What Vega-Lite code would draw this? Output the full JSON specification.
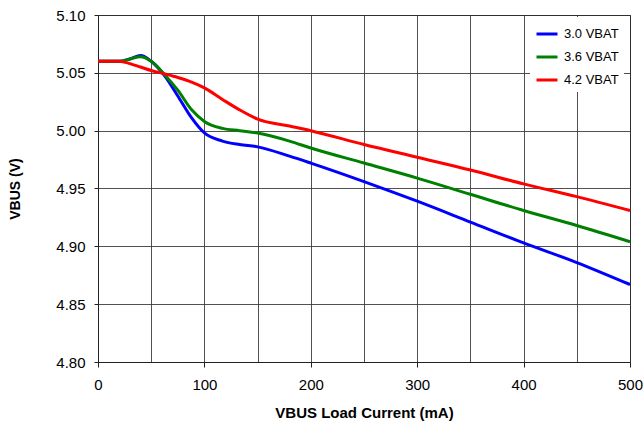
{
  "$schema": "https://vega.github.io/schema/vega-lite/v6.json",
  "autosize": {"type": "none"},
  "padding": {"left": 98, "top": 15, "right": 14, "bottom": 65},
  "width": 532,
  "height": 347,
  "background": "white",
  "config": {
    "font": "Liberation Sans",
    "view": {"stroke": "#222", "strokeWidth": 1},
    "axis": {"labelFont": "Liberation Sans", "titleFont": "Liberation Sans", "labelColor": "#000", "titleColor": "#000", "gridColor": "#333", "gridOpacity": 0.85, "domainColor": "#222", "tickColor": "#222"}
  },
  "data": {"values": [
    {"ma": 0, "v": 5.060, "s": "3.0 VBAT"},
    {"ma": 10, "v": 5.060, "s": "3.0 VBAT"},
    {"ma": 20, "v": 5.060, "s": "3.0 VBAT"},
    {"ma": 30, "v": 5.062, "s": "3.0 VBAT"},
    {"ma": 40, "v": 5.065, "s": "3.0 VBAT"},
    {"ma": 50, "v": 5.060, "s": "3.0 VBAT"},
    {"ma": 63, "v": 5.047, "s": "3.0 VBAT"},
    {"ma": 75, "v": 5.030, "s": "3.0 VBAT"},
    {"ma": 88, "v": 5.011, "s": "3.0 VBAT"},
    {"ma": 100, "v": 4.998, "s": "3.0 VBAT"},
    {"ma": 117, "v": 4.991, "s": "3.0 VBAT"},
    {"ma": 133, "v": 4.988, "s": "3.0 VBAT"},
    {"ma": 150, "v": 4.986, "s": "3.0 VBAT"},
    {"ma": 180, "v": 4.978, "s": "3.0 VBAT"},
    {"ma": 200, "v": 4.972, "s": "3.0 VBAT"},
    {"ma": 250, "v": 4.956, "s": "3.0 VBAT"},
    {"ma": 300, "v": 4.939, "s": "3.0 VBAT"},
    {"ma": 350, "v": 4.921, "s": "3.0 VBAT"},
    {"ma": 400, "v": 4.903, "s": "3.0 VBAT"},
    {"ma": 450, "v": 4.886, "s": "3.0 VBAT"},
    {"ma": 500, "v": 4.867, "s": "3.0 VBAT"},
    {"ma": 0, "v": 5.060, "s": "3.6 VBAT"},
    {"ma": 10, "v": 5.060, "s": "3.6 VBAT"},
    {"ma": 20, "v": 5.060, "s": "3.6 VBAT"},
    {"ma": 30, "v": 5.062, "s": "3.6 VBAT"},
    {"ma": 40, "v": 5.064, "s": "3.6 VBAT"},
    {"ma": 50, "v": 5.060, "s": "3.6 VBAT"},
    {"ma": 63, "v": 5.048, "s": "3.6 VBAT"},
    {"ma": 75, "v": 5.035, "s": "3.6 VBAT"},
    {"ma": 88, "v": 5.018, "s": "3.6 VBAT"},
    {"ma": 100, "v": 5.008, "s": "3.6 VBAT"},
    {"ma": 117, "v": 5.002, "s": "3.6 VBAT"},
    {"ma": 133, "v": 5.000, "s": "3.6 VBAT"},
    {"ma": 150, "v": 4.998, "s": "3.6 VBAT"},
    {"ma": 180, "v": 4.991, "s": "3.6 VBAT"},
    {"ma": 200, "v": 4.985, "s": "3.6 VBAT"},
    {"ma": 250, "v": 4.972, "s": "3.6 VBAT"},
    {"ma": 300, "v": 4.959, "s": "3.6 VBAT"},
    {"ma": 350, "v": 4.945, "s": "3.6 VBAT"},
    {"ma": 400, "v": 4.931, "s": "3.6 VBAT"},
    {"ma": 450, "v": 4.918, "s": "3.6 VBAT"},
    {"ma": 500, "v": 4.904, "s": "3.6 VBAT"},
    {"ma": 0, "v": 5.060, "s": "4.2 VBAT"},
    {"ma": 20, "v": 5.060, "s": "4.2 VBAT"},
    {"ma": 30, "v": 5.058, "s": "4.2 VBAT"},
    {"ma": 40, "v": 5.055, "s": "4.2 VBAT"},
    {"ma": 50, "v": 5.052, "s": "4.2 VBAT"},
    {"ma": 63, "v": 5.049, "s": "4.2 VBAT"},
    {"ma": 75, "v": 5.046, "s": "4.2 VBAT"},
    {"ma": 88, "v": 5.042, "s": "4.2 VBAT"},
    {"ma": 100, "v": 5.037, "s": "4.2 VBAT"},
    {"ma": 117, "v": 5.027, "s": "4.2 VBAT"},
    {"ma": 133, "v": 5.018, "s": "4.2 VBAT"},
    {"ma": 150, "v": 5.010, "s": "4.2 VBAT"},
    {"ma": 180, "v": 5.004, "s": "4.2 VBAT"},
    {"ma": 200, "v": 5.000, "s": "4.2 VBAT"},
    {"ma": 250, "v": 4.988, "s": "4.2 VBAT"},
    {"ma": 300, "v": 4.977, "s": "4.2 VBAT"},
    {"ma": 350, "v": 4.966, "s": "4.2 VBAT"},
    {"ma": 400, "v": 4.954, "s": "4.2 VBAT"},
    {"ma": 450, "v": 4.943, "s": "4.2 VBAT"},
    {"ma": 500, "v": 4.931, "s": "4.2 VBAT"}
  ]},
  "mark": {"type": "line", "interpolate": "monotone", "strokeWidth": 3},
  "encoding": {
    "x": {
      "field": "ma", "type": "quantitative",
      "scale": {"domain": [0, 500], "nice": false},
      "axis": {
        "title": "VBUS Load Current (mA)",
        "values": [0, 50, 100, 150, 200, 250, 300, 350, 400, 450, 500],
        "labelExpr": "datum.value % 100 === 0 ? datum.label : ''",
        "tickOpacity": {"expr": "datum.value % 100 === 0 ? 1 : 0"},
        "labelFlush": false,
        "labelOverlap": false,
        "tickSize": 5,
        "labelPadding": 10,
        "labelFontSize": 15,
        "titleFontSize": 15,
        "titleFontWeight": "bold",
        "titlePadding": 13,
        "grid": true
      }
    },
    "y": {
      "field": "v", "type": "quantitative",
      "scale": {"domain": [4.8, 5.1], "nice": false, "zero": false},
      "axis": {
        "title": "VBUS (V)",
        "values": [4.8, 4.85, 4.9, 4.95, 5.0, 5.05, 5.1],
        "format": ".2f",
        "labelFlush": false,
        "tickSize": 4,
        "labelPadding": 9,
        "labelFontSize": 15,
        "titleFontSize": 14,
        "titleFontWeight": "bold",
        "titlePadding": 33,
        "grid": true
      }
    },
    "color": {
      "field": "s", "type": "nominal",
      "scale": {"domain": ["3.0 VBAT", "3.6 VBAT", "4.2 VBAT"], "range": ["#0000ff", "#008000", "#ff0000"]},
      "legend": {
        "title": null,
        "orient": "none",
        "legendX": 432,
        "legendY": 2,
        "fillColor": "white",
        "padding": 5,
        "symbolType": "stroke",
        "symbolSize": 441,
        "symbolStrokeWidth": 3,
        "labelFontSize": 13,
        "labelFont": "Liberation Sans",
        "labelColor": "#000",
        "rowPadding": 4,
        "labelOffset": 5
      }
    }
  }
}
